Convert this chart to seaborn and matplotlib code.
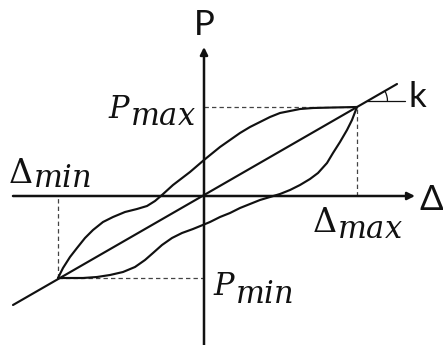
import numpy as np
import pandas as pd
import matplotlib
matplotlib.use("Agg")
import matplotlib.pyplot as plt
from matplotlib.patches import Arc
import seaborn as sns

# Loading branch (from the negative peak up to the positive peak, upper side)
upper_delta = [-14.6, -14.1, -13.4, -12.7, -11.9, -11.1, -10.1, -9.1, -7.9, -6.7,
               -5.7, -4.9, -4.2, -3.1, -1.4, 0.0, 1.6, 2.6, 3.6, 4.6,
               5.6, 6.6, 7.6, 8.6, 9.6, 10.9, 12.9, 15.3]
upper_p = [-8.2, -7.2, -6.1, -5.2, -4.2, -3.4, -2.6, -2.1, -1.6, -1.3,
           -1.0, -0.5, 0.1, 1.1, 2.4, 3.6, 4.9, 5.6, 6.3, 6.9,
           7.4, 7.9, 8.3, 8.5, 8.7, 8.8, 8.85, 8.9]

# Unloading/reloading branch (negative peak to positive peak, lower side)
lower_delta = [-14.6, -13.4, -12.1, -10.7, -9.4, -8.1, -6.9, -5.9, -5.1, -4.2,
               -3.2, -2.2, -1.1, 0.0, 0.6, 1.6, 2.6, 3.6, 4.6, 5.6,
               6.6, 7.6, 8.6, 9.6, 10.6, 11.4, 12.3, 12.9, 13.6, 14.3,
               14.8, 15.3]
lower_p = [-8.2, -8.2, -8.2, -8.1, -7.9, -7.6, -7.1, -6.4, -5.7, -4.9,
           -4.2, -3.7, -3.3, -2.85, -2.6, -2.1, -1.7, -1.2, -0.8, -0.4,
           -0.1, 0.2, 0.6, 1.1, 1.7, 2.3, 3.3, 4.3, 5.4, 6.6,
           7.6, 8.9]

# Secant stiffness line
secant_delta = [-19.1, 19.3]
secant_p = [-10.9, 11.2]

# Peak points
delta_max, p_max = 15.3, 8.9
delta_min, p_min = -14.6, -8.2

# Reference level for the stiffness angle k
k_level = 9.5
k_end = 20.1

sns.set_theme(style="white")
plt.rcParams["font.family"] = ["Lato", "DejaVu Sans"]
plt.rcParams["mathtext.fontset"] = "dejavuserif"

fig = plt.figure(figsize=(4.43, 3.45), dpi=100)
ax = fig.add_axes([0, 0, 1, 1])
ax.set_xlim(-20.4, 23.9)
ax.set_ylim(-14.9, 19.6)
ax.set_axis_off()

ink = "#111111"

# Coordinate axes with arrow heads
ax.annotate("", xy=(21.1, 0), xytext=(-19.1, 0),
            arrowprops=dict(arrowstyle="-|>", color=ink, lw=1.8,
                            mutation_scale=11, shrinkA=0, shrinkB=0))
ax.annotate("", xy=(0, 14.9), xytext=(0, -15.0),
            arrowprops=dict(arrowstyle="-|>", color=ink, lw=1.8,
                            mutation_scale=11, shrinkA=0, shrinkB=0))

# Dashed guides to the peaks
guide = dict(color="#444444", lw=0.9, ls=(0, (3.5, 2.5)))
ax.plot([0, delta_max], [p_max, p_max], **guide)
ax.plot([delta_max, delta_max], [0, p_max], **guide)
ax.plot([delta_min, 0], [p_min, p_min], **guide)
ax.plot([delta_min, delta_min], [p_min, 0], **guide)

# Hysteresis loop and secant line
loop = pd.concat([
    pd.DataFrame({"delta": upper_delta, "p": upper_p, "branch": "upper"}),
    pd.DataFrame({"delta": lower_delta, "p": lower_p, "branch": "lower"}),
    pd.DataFrame({"delta": secant_delta, "p": secant_p, "branch": "secant"}),
])
sns.lineplot(data=loop, x="delta", y="p", units="branch", estimator=None,
             sort=False, color=ink, lw=1.55, ax=ax, legend=False,
             solid_joinstyle="round", solid_capstyle="round")

# Stiffness angle marker
k_start = np.interp(k_level, secant_p, secant_delta)
slope = (secant_p[1] - secant_p[0]) / (secant_delta[1] - secant_delta[0])
ax.plot([k_start, k_end], [k_level, k_level], color=ink, lw=0.9)
ax.add_patch(Arc((k_start, k_level), 4.0, 4.0, theta1=0,
                 theta2=np.degrees(np.arctan(slope)), color=ink, lw=0.9))

# Axis names
ax.text(0.05, 17.1, "P", fontsize=25, ha="center", va="center", color=ink)
ax.text(22.7, -0.4, "Δ", fontsize=25, ha="center", va="center", color=ink)
ax.text(21.3, 9.9, "k", fontsize=25, ha="center", va="center", color=ink)


def peak_label(x, y, symbol, sub, size, sub_size, gap, drop):
    main = ax.text(x, y, symbol, fontsize=size, ha="left", va="baseline",
                   color=ink)
    ax.annotate(sub, xy=(1, y), xycoords=(main, "data"),
                xytext=(gap, -drop), textcoords="offset points",
                fontsize=sub_size, ha="left", va="baseline", color=ink)


peak_label(-9.6, 7.8, r"$P$", r"$max$", 22, 22, -0.8, 5)
peak_label(-19.6, 1.3, r"$\Delta$", r"$min$", 24, 22, 0.0, 3)
peak_label(10.8, -3.6, r"$\Delta$", r"$max$", 24, 22, 0.0, 4.5)
peak_label(0.9, -9.9, r"$P$", r"$min$", 22, 22, -0.8, 6)

fig.savefig("out.png", dpi=100)
